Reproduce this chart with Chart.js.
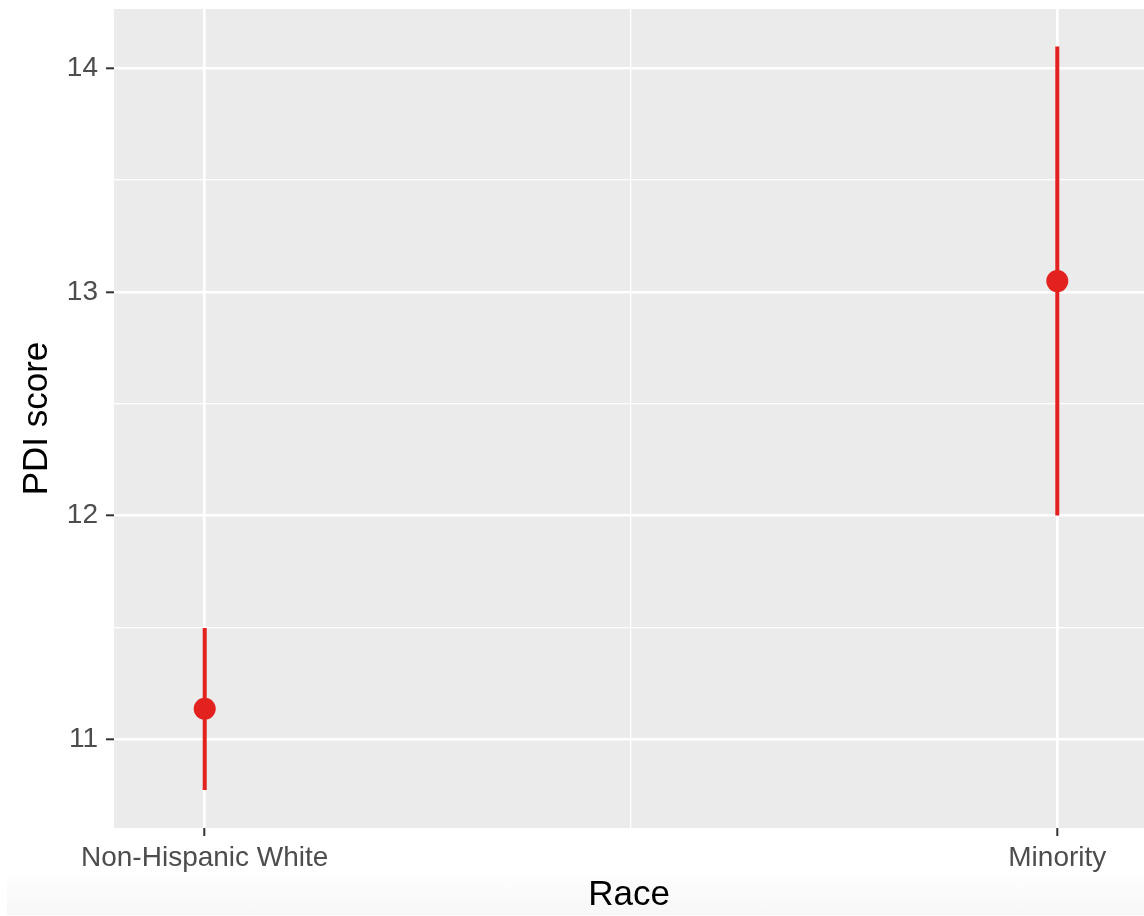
<!DOCTYPE html>
<html>
<head>
<meta charset="utf-8">
<script src="https://cdn.jsdelivr.net/npm/chart.js@4/dist/chart.umd.min.js"></script>
<style>
  html, body { margin: 0; padding: 0; }
  body {
    width: 1144px; height: 916px; overflow: hidden;
    background: #fff;
  }
  #shade {
    position: absolute; left: 7px; top: 868px; width: 1137px; height: 47px;
    background: linear-gradient(to bottom, #ffffff, #f7f7f7);
  }
  #wrap { position: absolute; left: 0; top: 0; width: 1144px; height: 916px; }
</style>
</head>
<body>
<div id="shade"></div>
<div id="wrap"><canvas id="chartCanvas" width="1144" height="916"></canvas></div>
<script>
// data
var categories = ['Non-Hispanic White', 'Minority']
var meanValues = [11.135, 13.048]
var lowerValues = [10.772, 12.0]
var upperValues = [11.497, 14.097]

var yTicks = [11, 11.5, 12, 12.5, 13, 13.5, 14]
var xTicks = [0, 0.5, 1]

var red = '#e3211e'
var tickFont = { family: 'Liberation Sans, Arial, sans-serif', size: 28 }
var titleFont = { family: 'Liberation Sans, Arial, sans-serif', size: 35 }

// one line per category for the error bar
var datasets = categories.map((c, i) => {
    return {
        type: 'line',
        label: c + ' CI',
        data: [{ x: i, y: lowerValues[i] }, { x: i, y: upperValues[i] }],
        borderColor: red,
        borderWidth: 4,
        borderCapStyle: 'butt',
        pointRadius: 0,
        fill: false
    }
})

datasets.push({
    type: 'scatter',
    label: 'mean',
    data: categories.map((c, i) => ({ x: i, y: meanValues[i] })),
    backgroundColor: red,
    borderColor: red,
    borderWidth: 0,
    pointRadius: 11
})

// grey panel behind everything
var panelBg = {
    id: 'panelBg',
    beforeDraw(chart) {
        var a = chart.chartArea
        var ctx = chart.ctx
        ctx.save()
        ctx.fillStyle = '#ebebeb'
        ctx.fillRect(a.left, a.top, a.right - a.left, a.bottom - a.top)
        ctx.restore()
    }
}

var isMajor = v => Math.abs(v - Math.round(v)) < 1e-9

new Chart(document.getElementById('chartCanvas'), {
    type: 'scatter',
    data: { datasets: datasets },
    plugins: [panelBg],
    options: {
        responsive: false,
        animation: false,
        layout: { autoPadding: false, padding: { top: 9, right: 0, bottom: 0, left: 0 } },
        plugins: { legend: { display: false }, tooltip: { enabled: false } },
        scales: {
            x: {
                type: 'linear',
                min: -0.1064,
                max: 1.1017,
                afterBuildTicks: s => { s.ticks = xTicks.map(v => ({ value: v })) },
                afterFit: s => {
                    s.height = 88
                    s.paddingLeft = 0
                    s.paddingRight = 0
                },
                border: { display: false },
                grid: {
                    color: '#ffffff',
                    lineWidth: c => isMajor(c.tick.value) ? 2.6 : 1.3,
                    tickColor: c => isMajor(c.tick.value) ? '#333333' : 'rgba(0,0,0,0)',
                    tickWidth: 2,
                    tickLength: 8
                },
                ticks: {
                    color: '#4d4d4d',
                    font: tickFont,
                    padding: 5,
                    maxRotation: 0,
                    autoSkip: false,
                    callback: v => isMajor(v) ? categories[Math.round(v)] : ''
                },
                title: {
                    display: true,
                    text: 'Race',
                    color: '#000000',
                    font: titleFont,
                    padding: { top: 0, bottom: 0 }
                }
            },
            y: {
                type: 'linear',
                min: 10.602,
                max: 14.265,
                afterBuildTicks: s => { s.ticks = yTicks.map(v => ({ value: v })) },
                afterFit: s => {
                    s.width = 114
                    s.paddingTop = 0
                    s.paddingBottom = 0
                },
                border: { display: false },
                grid: {
                    color: '#ffffff',
                    lineWidth: c => isMajor(c.tick.value) ? 2.6 : 1.3,
                    tickColor: c => isMajor(c.tick.value) ? '#333333' : 'rgba(0,0,0,0)',
                    tickWidth: 2,
                    tickLength: 8
                },
                ticks: {
                    color: '#4d4d4d',
                    font: tickFont,
                    padding: 8,
                    autoSkip: false,
                    callback: v => isMajor(v) ? String(v) : ''
                },
                title: {
                    display: true,
                    text: 'PDI score',
                    color: '#000000',
                    font: titleFont,
                    padding: { top: 16, bottom: 0 }
                }
            }
        }
    }
})
</script>
</body>
</html>
